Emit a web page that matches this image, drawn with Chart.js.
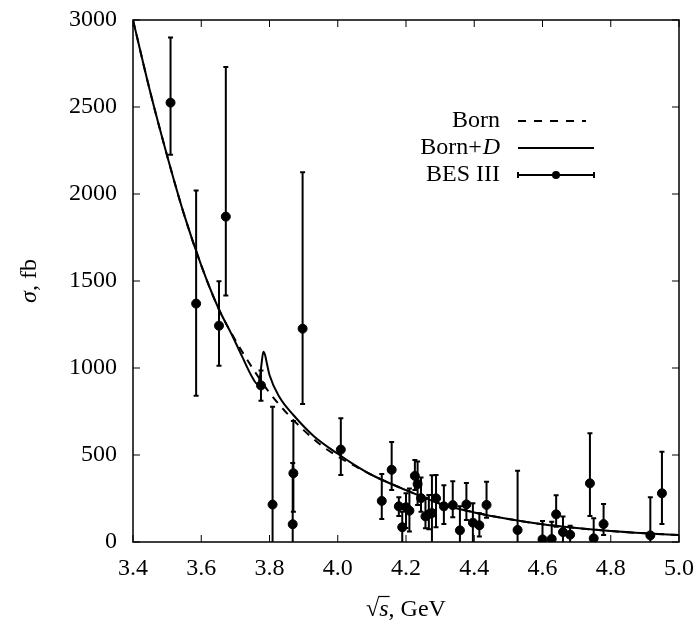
<!DOCTYPE html>
<html>
<head>
<meta charset="utf-8">
<script src="https://cdn.jsdelivr.net/npm/chart.js@4.4.1/dist/chart.umd.min.js"></script>
<style>
  html, body { margin: 0; padding: 0; background: #fff; }
  #wrap { width: 696px; height: 626px; }
</style>
</head>
<body>
<div id="wrap"><canvas id="chart" width="696" height="626"></canvas></div>
<script>
// Theory curves (sqrt(s) in GeV, sigma in fb)
const bornX = [3.40, 3.45, 3.50, 3.55, 3.60, 3.65, 3.70, 3.75, 3.80, 3.85, 3.90, 3.95, 4.00, 4.05, 4.10, 4.20, 4.30, 4.40, 4.50, 4.60, 4.70, 4.80, 4.90, 5.00];
const bornY = [3000, 2590, 2220, 1880, 1590, 1345, 1160, 1000, 858, 742, 643, 558, 492, 437, 385, 298, 220, 170, 132, 102, 80, 63, 50, 40];

const bornDX = [3.40, 3.45, 3.50, 3.55, 3.60, 3.65, 3.69, 3.72, 3.75, 3.765, 3.772, 3.777, 3.782, 3.787, 3.793, 3.80, 3.83, 3.87, 3.93, 4.00, 4.05, 4.10, 4.20, 4.30, 4.40, 4.50, 4.60, 4.70, 4.80, 4.90, 5.00];
const bornDY = [3000, 2590, 2220, 1880, 1590, 1345, 1190, 1065, 945, 908, 950, 1030, 1094, 1075, 1020, 960, 830, 730, 608, 507, 442, 385, 298, 220, 170, 132, 102, 80, 63, 50, 40];

// BES III data points with lower / upper ends of error bars
const besX  = [3.510, 3.585, 3.652, 3.672, 3.775, 3.809, 3.870, 3.868, 3.897, 4.009,
               4.129, 4.158, 4.179, 4.189, 4.200, 4.210, 4.226, 4.234, 4.244, 4.257,
               4.267, 4.276, 4.288, 4.311, 4.337, 4.358, 4.377, 4.396, 4.415, 4.436,
               4.527, 4.600, 4.627, 4.640, 4.660, 4.681, 4.739, 4.750, 4.779, 4.916, 4.950];
const besY  = [2525, 1370, 1243, 1870, 900, 215, 395, 102, 1226, 531,
               236, 415, 205, 85, 200, 180, 380, 333, 252, 147,
               160, 166, 251, 205, 212, 67, 216, 111, 96, 213,
               69, 15, 17, 159, 57, 42, 337, 21, 103, 38, 280];
const besLo = [2225, 840, 1013, 1416, 812, -400, 174, -300, 793, 385,
               132, 299, 150, -100, 80, 60, 299, 213, 174, 79,
               73, -100, 85, 103, 142, -60, 126, -30, 32, 140,
               -100, -50, -50, 88, -30, -10, 149, -50, 40, -80, 103];
const besHi = [2900, 2020, 1498, 2730, 985, 778, 695, 454, 2125, 711,
               391, 575, 257, 174, 280, 308, 471, 462, 370, 255,
               270, 383, 385, 326, 349, 205, 339, 222, 165, 346,
               409, 121, 117, 268, 146, 94, 625, 136, 218, 257, 519];

const SERIF = '"Liberation Serif", "DejaVu Serif", serif';

// error bars, drawn from the scales
const errorBars = {
  id: 'errorBars',
  afterDatasetsDraw(chart) {
    const { ctx, chartArea, scales } = chart;
    ctx.save();
    ctx.beginPath();
    ctx.rect(chartArea.left, chartArea.top, chartArea.right - chartArea.left, chartArea.bottom - chartArea.top);
    ctx.clip();
    ctx.strokeStyle = '#000';
    ctx.lineWidth = 2;
    for (let i = 0; i < besX.length; i++) {
      const x = scales.x.getPixelForValue(besX[i]);
      const y1 = scales.y.getPixelForValue(besLo[i]);
      const y2 = scales.y.getPixelForValue(besHi[i]);
      ctx.beginPath();
      ctx.moveTo(x, y1); ctx.lineTo(x, y2);
      ctx.moveTo(x - 2.5, y1); ctx.lineTo(x + 2.5, y1);
      ctx.moveTo(x - 2.5, y2); ctx.lineTo(x + 2.5, y2);
      ctx.stroke();
    }
    ctx.restore();
  }
};

// box frame with inward ticks on all four sides, axis titles, legend
const frame = {
  id: 'frame',
  afterDraw(chart) {
    const { ctx, chartArea: a, scales } = chart;
    ctx.save();
    ctx.strokeStyle = '#000';
    ctx.lineWidth = 1.5;
    ctx.strokeRect(a.left, a.top, a.right - a.left, a.bottom - a.top);
    ctx.lineWidth = 1;
    ctx.beginPath();
    scales.x.ticks.forEach(t => {
      const x = scales.x.getPixelForValue(t.value);
      ctx.moveTo(x, a.bottom); ctx.lineTo(x, a.bottom - 7);
      ctx.moveTo(x, a.top); ctx.lineTo(x, a.top + 7);
    });
    scales.y.ticks.forEach(t => {
      const y = scales.y.getPixelForValue(t.value);
      ctx.moveTo(a.left, y); ctx.lineTo(a.left + 7, y);
      ctx.moveTo(a.right, y); ctx.lineTo(a.right - 7, y);
    });
    ctx.stroke();

    // y title
    ctx.fillStyle = '#000';
    ctx.translate(30, (a.top + a.bottom) / 2);
    ctx.rotate(-Math.PI / 2);
    ctx.textBaseline = 'middle';
    ctx.font = 'italic 24px ' + SERIF;
    const w1 = ctx.measureText('σ').width;
    ctx.font = '24px ' + SERIF;
    const w2 = ctx.measureText(', fb').width;
    ctx.font = 'italic 24px ' + SERIF;
    ctx.fillText('σ', -(w1 + w2) / 2, 0);
    ctx.font = '24px ' + SERIF;
    ctx.fillText(', fb', -(w1 + w2) / 2 + w1, 0);
    ctx.setTransform(1, 0, 0, 1, 0, 0);
    ctx.scale(chart.currentDevicePixelRatio, chart.currentDevicePixelRatio);

    // x title
    const cx = (a.left + a.right) / 2;
    const yb = 616;
    ctx.textBaseline = 'alphabetic';
    ctx.font = '24px ' + SERIF;
    const wr = ctx.measureText('√').width;
    const wc = ctx.measureText(', GeV').width;
    ctx.font = 'italic 24px ' + SERIF;
    const ws = ctx.measureText('s').width;
    let x0 = cx - (wr + ws + wc) / 2;
    ctx.font = '24px ' + SERIF;
    ctx.fillText('√', x0, yb);
    ctx.font = 'italic 24px ' + SERIF;
    ctx.fillText('s', x0 + wr, yb);
    ctx.font = '24px ' + SERIF;
    ctx.fillText(', GeV', x0 + wr + ws, yb);
    ctx.lineWidth = 1.2;
    ctx.beginPath();
    ctx.moveTo(x0 + wr - 1, yb - 19.5);
    ctx.lineTo(x0 + wr + ws + 1, yb - 19.5);
    ctx.stroke();

    // legend: text right-aligned, sample to the right
    const rows = [121, 148, 175];
    const tx = 500, s0 = 518, s1 = 594;
    ctx.textAlign = 'right';
    ctx.textBaseline = 'middle';
    ctx.font = '24px ' + SERIF;
    ctx.fillText(chart.data.datasets[0].label, tx, rows[0]);
    ctx.font = 'italic 24px ' + SERIF;
    const wd = ctx.measureText('D').width;
    ctx.fillText('D', tx, rows[1]);
    ctx.font = '24px ' + SERIF;
    ctx.fillText('Born+', tx - wd - 1, rows[1]);
    ctx.fillText(chart.data.datasets[2].label, tx, rows[2]);

    ctx.lineWidth = 2;
    ctx.setLineDash([8, 8]);
    ctx.beginPath();
    ctx.moveTo(s0, rows[0]); ctx.lineTo(s0 + 68, rows[0]);
    ctx.stroke();
    ctx.setLineDash([]);
    ctx.beginPath();
    ctx.moveTo(s0, rows[1]); ctx.lineTo(s1, rows[1]);
    ctx.moveTo(s0, rows[2]); ctx.lineTo(s1, rows[2]);
    ctx.moveTo(s0, rows[2] - 3); ctx.lineTo(s0, rows[2] + 3);
    ctx.moveTo(s1, rows[2] - 3); ctx.lineTo(s1, rows[2] + 3);
    ctx.stroke();
    ctx.beginPath();
    ctx.arc((s0 + s1) / 2, rows[2], 4, 0, Math.PI * 2);
    ctx.fill();
    ctx.restore();
  }
};

const ctx = document.getElementById('chart').getContext('2d');
const chart = new Chart(ctx, {
  type: 'scatter',
  data: {
    datasets: [{
      label: 'Born',
      type: 'line',
      data: bornX.map((x, i) => ({ x: x, y: bornY[i] })),
      borderColor: '#000',
      borderWidth: 2,
      borderDash: [8, 7],
      pointRadius: 0,
      fill: false,
      cubicInterpolationMode: 'monotone'
    }, {
      label: 'Born+D',
      type: 'line',
      data: bornDX.map((x, i) => ({ x: x, y: bornDY[i] })),
      borderColor: '#000',
      borderWidth: 2,
      pointRadius: 0,
      fill: false,
      cubicInterpolationMode: 'monotone'
    }, {
      label: 'BES III',
      data: besX.map((x, i) => ({ x: x, y: besY[i] })),
      backgroundColor: '#000',
      borderColor: '#000',
      pointRadius: 4.5
    }]
  },
  plugins: [errorBars, frame],
  options: {
    responsive: false,
    animation: false,
    layout: { padding: { top: 20, right: 17, left: 0, bottom: 0 } },
    plugins: {
      legend: { display: false },
      tooltip: { enabled: false }
    },
    scales: {
      x: {
        type: 'linear',
        min: 3.4,
        max: 5.0,
        afterFit: s => { s.height = 84; s.paddingLeft = 0; s.paddingRight = 0; },
        grid: { display: false, drawTicks: false },
        border: { display: false },
        ticks: {
          stepSize: 0.2,
          padding: 12,
          color: '#000',
          font: { family: SERIF, size: 24 },
          maxRotation: 0,
          callback: v => v.toFixed(1)
        }
      },
      y: {
        min: 0,
        max: 3000,
        afterFit: s => { s.width = 133; s.paddingTop = 0; s.paddingBottom = 0; },
        grid: { display: false, drawTicks: false },
        border: { display: false },
        ticks: {
          stepSize: 500,
          padding: 16,
          color: '#000',
          font: { family: SERIF, size: 24 },
          callback: v => String(v)
        }
      }
    }
  }
});
</script>
</body>
</html>
